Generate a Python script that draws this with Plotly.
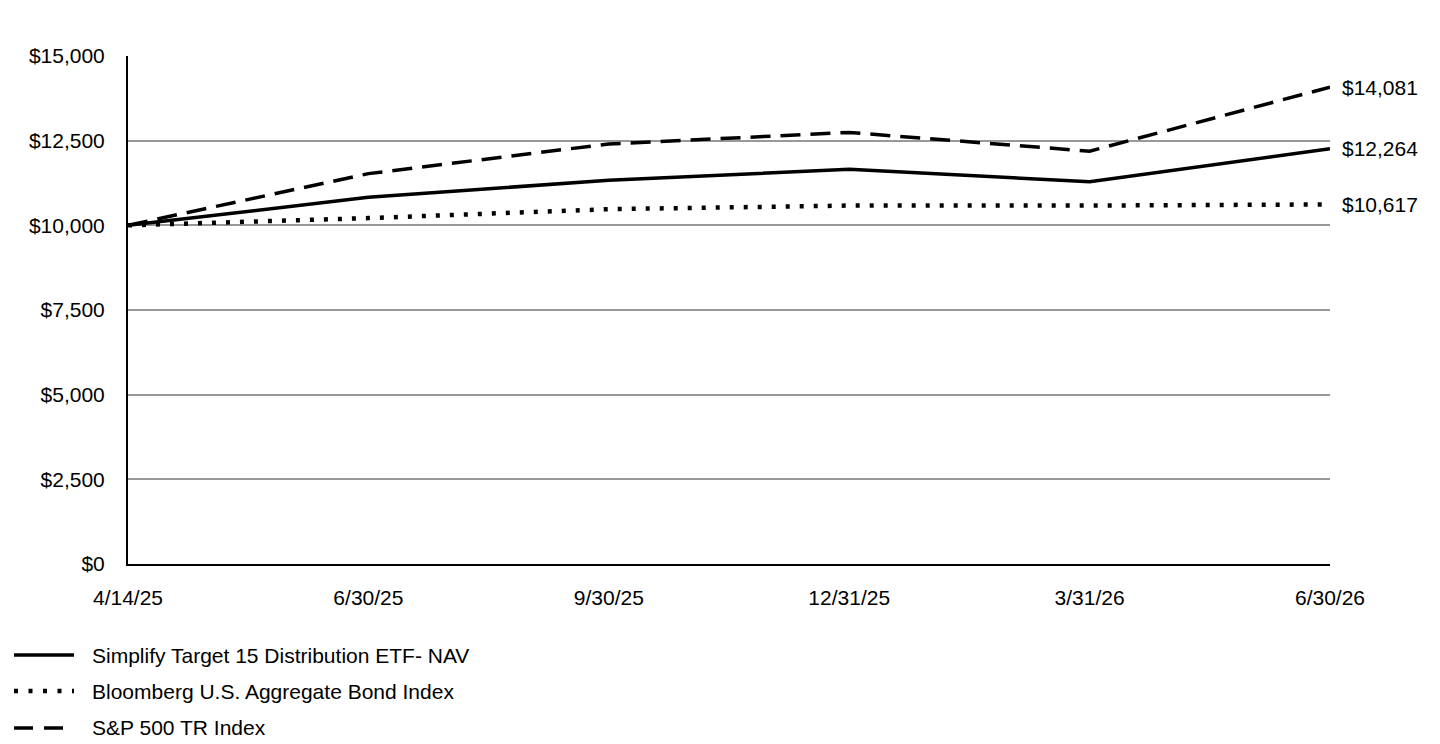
import plotly.graph_objects as go

# dates (categorical, equally spaced like the report chart)
dates = ["4/14/25", "6/30/25", "9/30/25", "12/31/25", "3/31/26", "6/30/26"]

nav = [10000, 10827, 11333, 11654, 11284, 12264]
bond = [10000, 10214, 10477, 10584, 10584, 10617]
spx = [10000, 11527, 12403, 12743, 12189, 14081]

names = ["Simplify Target 15 Distribution ETF- NAV",
         "Bloomberg U.S. Aggregate Bond Index",
         "S&P 500 TR Index"]

y_ticks = [0, 2500, 5000, 7500, 10000, 12500, 15000]

FONT = "Liberation Sans, Arial, sans-serif"
FS = 21
styles = [
    dict(color="black", width=3.5, dash="solid"),
    dict(color="black", width=4.5, dash="4px,10px"),
    dict(color="black", width=3.5, dash="20px,10px"),
]
legend_dash = ["solid", "4px,10.5px", "19px,11px"]

fig = go.Figure()
for name, vals, st in zip(names, [nav, bond, spx], styles):
    fig.add_trace(go.Scatter(x=dates, y=vals, mode="lines", name=name,
                             line=st, showlegend=False, hoverinfo="skip"))
    # valeur finale à droite
    fig.add_annotation(x=dates[-1], y=vals[-1], text=f"${vals[-1]:,}",
                       xanchor="left", yanchor="middle", xshift=10,
                       showarrow=False, font=dict(size=FS, color="black", family=FONT))

# plot area in page pixels (page body adds ~8px)
PAD = 8
L, W, T, H = 128, 1202, 56, 508

# hand-made legend below the plot, like the original
rows_px = [655, 691, 728]
for name, st, d, py in zip(names, styles, legend_dash, rows_px):
    yp = (T + H - py) / H
    fig.add_shape(type="line", xref="paper", yref="paper",
                  x0=(14 - L) / W, x1=(74 - L) / W, y0=yp, y1=yp,
                  line=dict(color="black", width=st["width"], dash=d))
    fig.add_annotation(xref="paper", yref="paper", x=(90 - L) / W, y=yp, text=name,
                       xanchor="left", yanchor="middle", showarrow=False,
                       font=dict(size=FS, color="black", family=FONT))

fig.update_layout(
    width=1440, height=744,
    margin=dict(l=L - PAD, r=1440 - L - W + PAD, t=T - PAD, b=744 - T - H + PAD),
    plot_bgcolor="white", paper_bgcolor="white",
    font=dict(family=FONT, size=FS, color="black"),
)
fig.update_xaxes(type="category", range=[0, len(dates) - 1], showgrid=False,
                 showline=True, linecolor="black", linewidth=2,
                 ticks="", ticklabelstandoff=14, tickfont=dict(size=FS))
fig.update_yaxes(range=[0, 15000], tickvals=y_ticks,
                 ticktext=[f"${v:,}" for v in y_ticks],
                 showgrid=True, gridcolor="#999999", gridwidth=2,
                 showline=True, linecolor="black", linewidth=2, zeroline=False,
                 ticks="", ticklabelstandoff=17, tickfont=dict(size=FS))

fig.write_html("out.html")
